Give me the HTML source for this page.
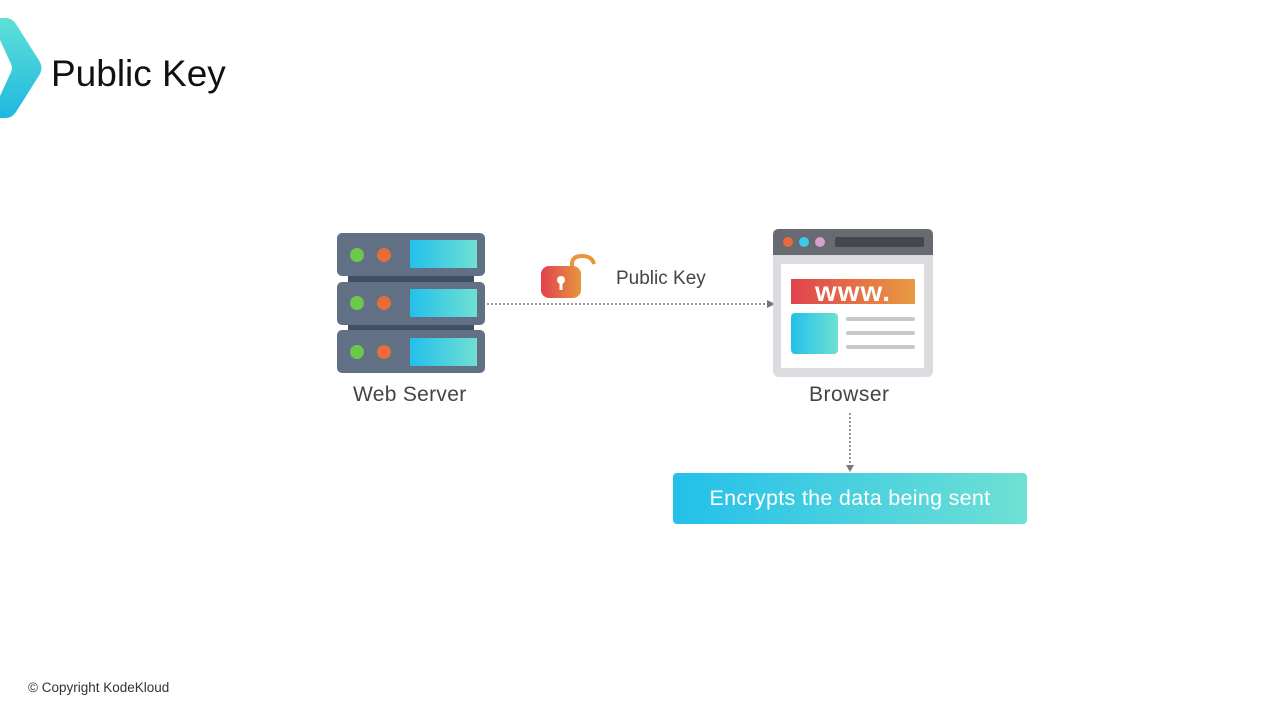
<!DOCTYPE html>
<html><head><meta charset="utf-8"><style>
body{margin:0;width:1280px;height:720px;background:#fff;position:relative;overflow:hidden;font-family:"Liberation Sans","DejaVu Sans",sans-serif}
.t{position:absolute;white-space:nowrap}
</style></head><body>
<svg width="1280" height="720" style="position:absolute;left:0;top:0">
<defs>
<linearGradient id="lg" x1="0" y1="0" x2="0" y2="1"><stop offset="0" stop-color="#5fe0d6"/><stop offset="1" stop-color="#1fb8e0"/></linearGradient>
<linearGradient id="cy" x1="0" y1="0" x2="1" y2="0"><stop offset="0" stop-color="#23c0ea"/><stop offset="1" stop-color="#6fe0d4"/></linearGradient>
<linearGradient id="rw" x1="0" y1="0" x2="1" y2="0"><stop offset="0" stop-color="#e0424f"/><stop offset="1" stop-color="#e99a40"/></linearGradient>
<linearGradient id="lk" x1="0" y1="0" x2="1" y2="0"><stop offset="0" stop-color="#e0424f"/><stop offset="1" stop-color="#e8953e"/></linearGradient>
</defs>
<path d="M0 18 L6 18 Q12 18 16 24 L40 62 Q43 68 40 74 L16 112 Q12 118 6 118 L0 118 L0 96 L11 72 Q13 68 11 64 L0 40 Z" fill="url(#lg)"/>
<rect x="348" y="270" width="126" height="14" fill="#3f5064"/>
<rect x="348" y="318" width="126" height="14" fill="#3f5064"/>
<g>
<rect x="337" y="233" width="148" height="43" rx="5" fill="#627085"/>
<circle cx="357" cy="255" r="7" fill="#6bc84b"/><circle cx="384" cy="255" r="7" fill="#e86b3a"/>
<rect x="410" y="240" width="67" height="28" fill="url(#cy)"/>
<rect x="337" y="282" width="148" height="43" rx="5" fill="#627085"/>
<circle cx="357" cy="303" r="7" fill="#6bc84b"/><circle cx="384" cy="303" r="7" fill="#e86b3a"/>
<rect x="410" y="289" width="67" height="28" fill="url(#cy)"/>
<rect x="337" y="330" width="148" height="43" rx="5" fill="#627085"/>
<circle cx="357" cy="352" r="7" fill="#6bc84b"/><circle cx="384" cy="352" r="7" fill="#e86b3a"/>
<rect x="410" y="338" width="67" height="28" fill="url(#cy)"/>
</g>
<line x1="487" y1="304" x2="768" y2="304" stroke="#777" stroke-width="1.5" stroke-dasharray="2 2"/>
<path d="M767 300 L775 304 L767 308Z" fill="#777"/>
<path d="M572 270 V264 Q572 256 582 256 Q592 256 594 264" fill="none" stroke="#e8953e" stroke-width="4"/>
<rect x="541" y="266" width="40" height="32" rx="8" fill="url(#lk)"/>
<circle cx="561" cy="280" r="4" fill="#fff"/><rect x="559.5" y="281" width="3" height="9" fill="#fff"/>
<rect x="773" y="229" width="160" height="148" rx="6" fill="#dcdce0"/>
<path d="M773 235 Q773 229 779 229 H927 Q933 229 933 235 V255 H773Z" fill="#676a70"/>
<circle cx="788" cy="242" r="5" fill="#e66a3c"/><circle cx="804" cy="242" r="5" fill="#3cc8e8"/><circle cx="820" cy="242" r="5" fill="#d6a0cc"/>
<rect x="835" y="237" width="89" height="10" rx="2" fill="#44474d"/>
<rect x="781" y="264" width="143" height="104" fill="#fff"/>
<rect x="791" y="279" width="124" height="25" fill="url(#rw)"/>
<text x="853" y="301" text-anchor="middle" font-family="Liberation Sans, sans-serif" font-weight="bold" font-size="28" fill="#fff" letter-spacing="1">www.</text>
<rect x="791" y="313" width="47" height="41" rx="4" fill="url(#cy)"/>
<rect x="846" y="317" width="69" height="4" rx="2" fill="#c6c8cc"/>
<rect x="846" y="331" width="69" height="4" rx="2" fill="#c6c8cc"/>
<rect x="846" y="345" width="69" height="4" rx="2" fill="#c6c8cc"/>
<line x1="850" y1="413" x2="850" y2="466" stroke="#777" stroke-width="1.5" stroke-dasharray="2 2"/>
<path d="M846 465 L850 472 L854 465Z" fill="#777"/>
<rect x="673" y="473" width="354" height="51" rx="4" fill="url(#cy)"/>
</svg>
<div class="t" style="left:51px;top:53px;font-size:37px;color:#111">Public Key</div>
<div class="t" style="left:616px;top:268px;font-size:19px;color:#444">Public Key</div>
<div class="t" style="left:353px;top:383px;font-size:21px;color:#444;letter-spacing:0.3px">Web Server</div>
<div class="t" style="left:809px;top:383px;font-size:21px;color:#444;letter-spacing:0.5px">Browser</div>
<div class="t" style="left:673px;top:486px;width:354px;text-align:center;font-size:21.5px;color:#fff;letter-spacing:0.3px">Encrypts the data being sent</div>
<div class="t" style="left:28px;top:680px;font-size:13.5px;color:#333">© Copyright KodeKloud</div>
</body></html>
